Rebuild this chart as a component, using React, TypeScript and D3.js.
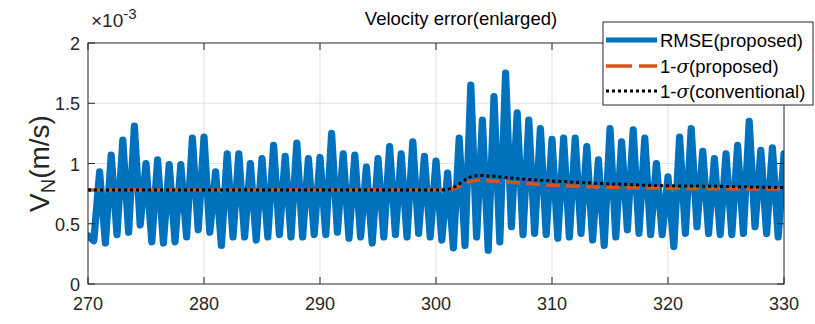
import React from 'react';
import * as d3 from 'd3';

const xTicks = [270, 280, 290, 300, 310, 320, 330];
const yTicks = [0, 0.5, 1, 1.5, 2];
const yTickLabels = ['0', '0.5', '1', '1.5', '2'];

// RMSE (proposed), in units of 1e-3 m/s
const rmseStartX = [270, 270.5];
const rmseStart = [0.40, 0.36];
// peaks at 271, 272, ..., 330
const rmsePeaks = [
  0.93, 1.07, 1.195, 1.31, 1.0, 1.03, 0.99, 0.99, 1.21, 1.22,
  0.93, 1.08, 1.08, 1.0, 1.04, 1.15, 1.06, 1.17, 1.04, 1.05,
  1.25, 1.08, 1.07, 0.97, 1.04, 1.14, 1.08, 1.18, 1.06, 1.02,
  0.92, 1.21, 1.65, 1.36, 1.555, 1.75, 1.42, 1.36, 1.29, 1.2,
  1.21, 1.21, 1.14, 1.03, 1.29, 1.18, 1.28, 1.21, 1.0, 0.89,
  1.22, 1.29, 1.10, 1.04, 1.08, 1.15, 1.35, 1.11, 1.13, 1.08,
];
// troughs at 271.5, 272.5, ..., 329.5
const rmseTroughs = [
  0.34, 0.41, 0.43, 0.49, 0.35, 0.34, 0.35, 0.39, 0.45, 0.43,
  0.32, 0.39, 0.39, 0.365, 0.39, 0.41, 0.39, 0.39, 0.41, 0.41,
  0.43, 0.38, 0.39, 0.34, 0.39, 0.41, 0.39, 0.42, 0.39, 0.365,
  0.30, 0.32, 0.39, 0.28, 0.35, 0.475, 0.41, 0.42, 0.41, 0.38,
  0.39, 0.42, 0.365, 0.32, 0.39, 0.45, 0.42, 0.41, 0.41, 0.31,
  0.42, 0.475, 0.42, 0.41, 0.41, 0.42, 0.475, 0.42, 0.39,
];

const sigmaX = [270, 300.5, 301, 301.5, 302, 302.5, 303, 303.5, 304, 305, 306, 307, 308, 309, 310, 312, 314, 316, 318, 320, 325, 330];
const sigmaProposed = [0.78, 0.78, 0.783, 0.79, 0.81, 0.835, 0.855, 0.86, 0.86, 0.855, 0.848, 0.84, 0.832, 0.825, 0.82, 0.812, 0.806, 0.80, 0.797, 0.795, 0.79, 0.788];
const sigmaConventional = [0.78, 0.78, 0.785, 0.80, 0.83, 0.865, 0.89, 0.90, 0.90, 0.895, 0.885, 0.875, 0.868, 0.862, 0.855, 0.845, 0.835, 0.828, 0.82, 0.815, 0.81, 0.80];

const W = 815, H = 324;
const L = 88, R = 784, T = 43, B = 284;
const BLUE = '#0072BD', ORANGE = '#D95319', AX = '#262626', GRID = '#e3e3e3';
const FONT = '"Liberation Sans", Arial, Helvetica, sans-serif';

export default function App() {
  const x = d3.scaleLinear().domain([270, 330]).range([L, R]);
  const y = d3.scaleLinear().domain([0, 2]).range([B, T]);

  const rmse: [number, number][] = [];
  rmseStartX.forEach((v, i) => rmse.push([v, rmseStart[i]]));
  rmsePeaks.forEach((v, i) => {
    rmse.push([271 + i, v]);
    if (i < rmseTroughs.length) rmse.push([271.5 + i, rmseTroughs[i]]);
  });
  const line = d3.line<[number, number]>().x(d => x(d[0])).y(d => y(d[1]));
  const prop = sigmaX.map((v, i) => [v, sigmaProposed[i]] as [number, number]);
  const conv = sigmaX.map((v, i) => [v, sigmaConventional[i]] as [number, number]);

  const tickLen = 7;
  const lg = { x: 603, y: 22, w: 210, h: 83 };
  const rows = [40, 66, 91];

  return (
    <svg width={W} height={H} style={{ position: 'absolute', left: 0, top: 0, background: '#fff' }} fontFamily={FONT}>
      <defs>
        <clipPath id="plotclip"><rect x={L} y={T} width={R - L} height={B - T} /></clipPath>
      </defs>
      <rect x={0} y={0} width={W} height={H} fill="#fff" />
      {xTicks.slice(1, -1).map(t => (
        <line key={'gx' + t} x1={x(t)} x2={x(t)} y1={T} y2={B} stroke={GRID} strokeWidth={1} />
      ))}
      {yTicks.slice(1, -1).map(t => (
        <line key={'gy' + t} x1={L} x2={R} y1={y(t)} y2={y(t)} stroke={GRID} strokeWidth={1} />
      ))}
      <g clipPath="url(#plotclip)">
        <path d={line(rmse) || ''} fill="none" stroke={BLUE} strokeWidth={7.2} strokeLinejoin="round" strokeLinecap="round" />
        <path d={line(prop) || ''} fill="none" stroke={ORANGE} strokeWidth={3.5} strokeDasharray="14 6" />
        <path d={line(conv) || ''} fill="none" stroke="#000" strokeWidth={3} strokeDasharray="3 3" />
      </g>
      <rect x={L} y={T} width={R - L} height={B - T} fill="none" stroke={AX} strokeWidth={1} />
      {xTicks.map(t => (
        <g key={'xt' + t}>
          <line x1={x(t)} x2={x(t)} y1={B} y2={B - tickLen} stroke={AX} />
          <line x1={x(t)} x2={x(t)} y1={T} y2={T + tickLen} stroke={AX} />
          <text x={x(t)} y={B + 26} textAnchor="middle" fontSize={18} fill={AX}>{t}</text>
        </g>
      ))}
      {yTicks.map((t, i) => (
        <g key={'yt' + t}>
          <line x1={L} x2={L + tickLen} y1={y(t)} y2={y(t)} stroke={AX} />
          <line x1={R} x2={R - tickLen} y1={y(t)} y2={y(t)} stroke={AX} />
          <text x={L - 8} y={y(t) + 7} textAnchor="end" fontSize={18} fill={AX}>{yTickLabels[i]}</text>
        </g>
      ))}
      <text x={L + 3} y={27} fontSize={19} fill={AX}>
        ×10<tspan dy={-8} fontSize={15}>-3</tspan>
      </text>
      <text x={461} y={25} textAnchor="middle" fontSize={18.5} fill="#000">Velocity error(enlarged)</text>
      <text transform={`translate(49,${(T + B) / 2}) rotate(-90)`} textAnchor="middle" fontSize={28} fill={AX}>
        V<tspan dy={6} fontSize={20}>N</tspan><tspan dy={-6}>(m/s)</tspan>
      </text>
      <rect x={lg.x} y={lg.y} width={lg.w} height={lg.h} fill="#fff" stroke={AX} strokeWidth={1} />
      <line x1={606} x2={657} y1={rows[0]} y2={rows[0]} stroke={BLUE} strokeWidth={5} />
      <line x1={606} x2={657} y1={rows[1]} y2={rows[1]} stroke={ORANGE} strokeWidth={3.5} strokeDasharray="26 7" />
      <line x1={606} x2={657} y1={rows[2]} y2={rows[2]} stroke="#000" strokeWidth={3} strokeDasharray="3 3" />
      <text x={660} y={rows[0] + 7} fontSize={18.5} fill="#000">RMSE(proposed)</text>
      <text x={660} y={rows[1] + 7} fontSize={18.5} fill="#000">1-<tspan fontStyle="italic" fontFamily='"DejaVu Serif", serif'>σ</tspan>(proposed)</text>
      <text x={660} y={rows[2] + 7} fontSize={18.5} fill="#000">1-<tspan fontStyle="italic" fontFamily='"DejaVu Serif", serif'>σ</tspan>(conventional)</text>
    </svg>
  );
}
